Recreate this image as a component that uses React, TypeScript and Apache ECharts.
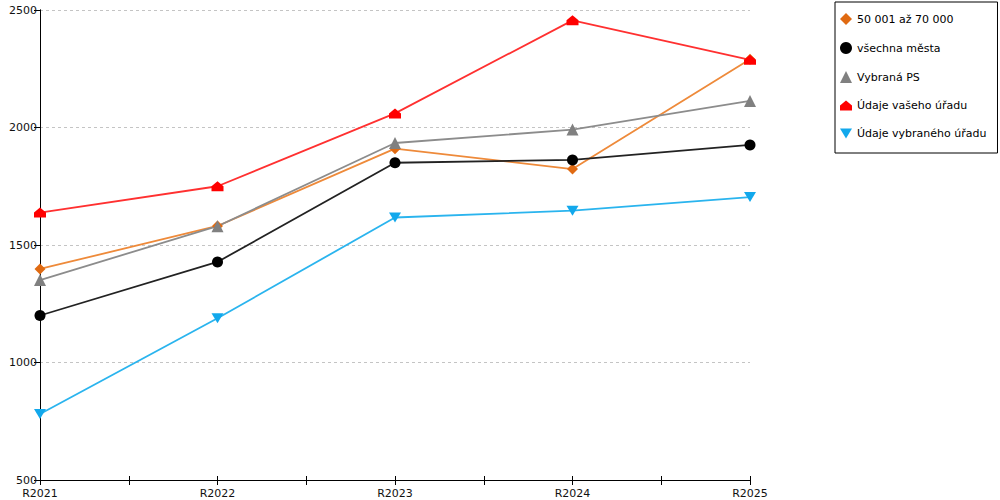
import React, { useEffect, useRef } from "react";
import * as echarts from "echarts";

const categories = ["R2021", "R2022", "R2023", "R2024", "R2025"];
const seriesNames = [
  "50 001 až 70 000",
  "všechna města",
  "Vybraná PS",
  "Údaje vašeho úřadu",
  "Údaje vybraného úřadu",
];
const orangeValues = [1398, 1581, 1910, 1823, 2290];
const blackValues = [1200, 1428, 1850, 1862, 1926];
const grayValues = [1351, 1580, 1934, 1991, 2113];
const redValues = [1638, 1750, 2060, 2456, 2288];
const blueValues = [781, 1188, 1617, 1646, 1704];
const yTicks = [500, 1000, 1500, 2000, 2500];

const HOUSE = "path://M0,5 L6,0 L12,5 L12,10 L0,10 Z";
const DOWN = "path://M0,0 L12,0 L6,10 Z";

export default function App() {
  const ref = useRef<HTMLDivElement>(null);
  useEffect(() => {
    if (!ref.current) return;
    const chart = echarts.init(ref.current, null, { renderer: "svg" });
    const font = "DejaVu Sans";
    const mk = (
      name: string,
      values: number[],
      color: string,
      lineColor: string,
      symbol: string,
      size: number | number[]
    ) => ({
      name,
      type: "line",
      data: values.map((v, i) => [i, v]),
      symbol,
      symbolSize: size,
      itemStyle: { color },
      lineStyle: { color: lineColor, width: 1.8 },
      emphasis: { disabled: true },
    });
    chart.setOption({
      animation: false,
      textStyle: { fontFamily: font },
      grid: { left: 40, right: 250, top: 10, bottom: 20 },
      legend: {
        orient: "vertical",
        left: 835,
        top: 2,
        padding: [11, 11, 14, 5],
        itemGap: 17,
        itemWidth: 12,
        itemHeight: 12,
        borderColor: "#000",
        borderWidth: 1,
        textStyle: { fontFamily: font, fontSize: 11, color: "#000" },
        data: [
          { name: seriesNames[0], icon: "diamond", itemStyle: { color: "#E06A12" } },
          { name: seriesNames[1], icon: "circle" },
          { name: seriesNames[2], icon: "triangle" },
          { name: seriesNames[3], icon: HOUSE },
          { name: seriesNames[4], icon: DOWN },
        ],
      },
      xAxis: [
        {
          type: "value",
          min: 0,
          max: categories.length - 1,
          interval: 0.5,
          splitLine: { show: false },
          axisLine: { lineStyle: { color: "#000", width: 1 } },
          axisTick: { show: true, length: 5, lineStyle: { color: "#000" } },
          axisLabel: {
            fontFamily: font,
            fontSize: 11,
            color: "#111",
            margin: 8,
            showMinLabel: true,
            showMaxLabel: true,
            formatter: (v: number) =>
              Number.isInteger(v) ? categories[v] : "",
          },
        },
        {
          type: "value",
          min: 0,
          max: categories.length - 1,
          interval: 0.5,
          position: "bottom",
          splitLine: { show: false },
          axisLine: { show: false },
          axisTick: { show: true, inside: true, length: 4, lineStyle: { color: "#000" } },
          axisLabel: { show: false },
        },
      ],
      yAxis: [
        {
          type: "value",
          min: yTicks[0],
          max: yTicks[yTicks.length - 1],
          interval: 500,
          axisLine: { show: true, lineStyle: { color: "#000", width: 1 } },
          axisTick: { show: true, length: 6, lineStyle: { color: "#000" } },
          axisLabel: {
            fontFamily: font,
            fontSize: 11,
            color: "#111",
            margin: 3,
            formatter: (v: number) => String(v),
          },
          splitLine: {
            show: true,
            lineStyle: { color: "#c4c4c4", type: [3, 3], width: 1 },
          },
        },
        {
          type: "value",
          position: "right",
          min: yTicks[0],
          max: yTicks[yTicks.length - 1],
          interval: 500,
          axisLine: { show: true, lineStyle: { color: "#000", width: 1 } },
          axisTick: { show: false },
          axisLabel: { show: false },
          splitLine: { show: false },
        },
      ],
      series: [
        mk(seriesNames[0], orangeValues, "#E06A12", "#EE8A3A", "diamond", 11),
        mk(seriesNames[1], blackValues, "#000000", "#222222", "circle", 11),
        mk(seriesNames[2], grayValues, "#808080", "#8c8c8c", "triangle", 12),
        mk(seriesNames[3], redValues, "#FF0000", "#FF3030", HOUSE, [12, 10]),
        mk(seriesNames[4], blueValues, "#12A8EC", "#2AB4EE", DOWN, [12, 10]),
      ],
    });
    return () => chart.dispose();
  }, []);
  return <div ref={ref} style={{ width: 1000, height: 500, position: "absolute", left: 0, top: 0 }} />;
}
